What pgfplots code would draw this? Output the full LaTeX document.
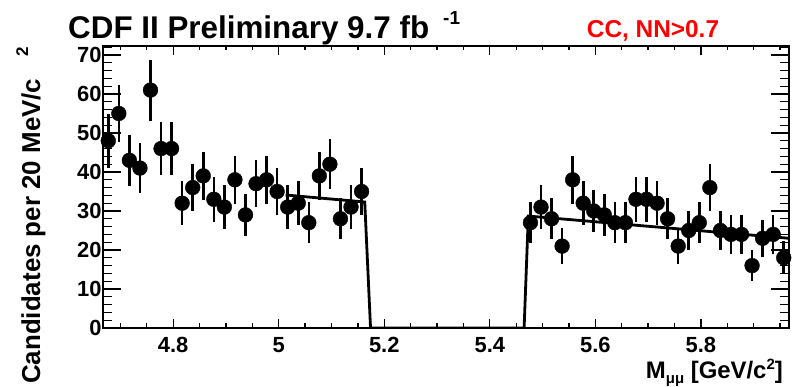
\documentclass[border=0pt]{standalone}
\usepackage{fontspec}
\setmainfont{Liberation Sans}
\usepackage{pgfplots}
\usepackage{pgfplotstable}
\pgfplotsset{compat=1.18}

% Dimuon candidates, 20 MeV bins, lower sideband
\pgfplotstableread{
x      y   e
4.677  48  6.93
4.697  55  7.42
4.717  43  6.56
4.737  41  6.40
4.757  61  7.81
4.777  46  6.78
4.797  46  6.78
4.817  32  5.66
4.837  36  6.00
4.857  39  6.24
4.877  33  5.74
4.897  31  5.57
4.917  38  6.16
4.937  29  5.39
4.957  37  6.08
4.977  38  6.16
4.997  35  5.92
5.017  31  5.57
5.037  32  5.66
5.057  27  5.20
5.077  39  6.24
5.097  42  6.48
5.117  28  5.29
5.137  31  5.57
5.157  35  5.92
}\lowside

% Upper sideband
\pgfplotstableread{
x      y   e
5.477  27  5.20
5.497  31  5.57
5.517  28  5.29
5.537  21  4.58
5.557  38  6.16
5.577  32  5.66
5.597  30  5.48
5.617  29  5.39
5.637  27  5.20
5.657  27  5.20
5.677  33  5.74
5.697  33  5.74
5.717  32  5.66
5.737  28  5.29
5.757  21  4.58
5.777  25  5.00
5.797  27  5.20
5.817  36  6.00
5.837  25  5.00
5.857  24  4.90
5.877  24  4.90
5.897  16  4.00
5.917  23  4.80
5.937  24  4.90
5.957  18  4.24
}\highside

\begin{document}
\begin{tikzpicture}
\begin{axis}[
  at={(103bp,59bp)}, anchor=south west,
  scale only axis, width=686bp, height=282bp,
  xmin=4.667, xmax=5.967, ymin=0, ymax=72.3,
  axis line style={line width=1.6bp},
  tick style={line width=1.3bp, black},
  xtick={4.8,5,5.2,5.4,5.6,5.8},
  xticklabels={4.8,5,5.2,5.4,5.6,5.8},
  minor xtick={4.7,4.75,4.85,4.9,4.95,5.05,5.1,5.15,5.25,5.3,5.35,5.45,5.5,5.55,5.65,5.7,5.75,5.85,5.9,5.95},
  ytick={0,10,...,70},
  minor ytick={2,4,6,8,12,14,16,18,22,24,26,28,32,34,36,38,42,44,46,48,52,54,56,58,62,64,66,68,72},
  xtick style={/pgfplots/major tick length=9bp, /pgfplots/minor tick length=4.5bp},
  ytick style={/pgfplots/major tick length=18bp, /pgfplots/minor tick length=9bp},
  /pgf/number format/assume math mode=true,
  ticklabel style={font=\bfseries\fontsize{22}{22}\selectfont},
  xticklabel style={yshift=-6bp},
  yticklabel style={xshift=2bp},
  clip=true,
]
  % fitted background shape
  \addplot[black, line width=2.8bp, sharp plot] coordinates {
    (5.013,34.1) (5.163,32.3) (5.174,0) (5.465,0) (5.473,28.7) (5.967,23.0)
  };
  \addplot[only marks, mark=*, mark size=7.4bp, black,
    error bars/.cd, y dir=both, y explicit, error mark=none,
    error bar style={line width=2.6bp, black}]
    table[x=x, y=y, y error=e] {\lowside};
  \addplot[only marks, mark=*, mark size=7.4bp, black,
    error bars/.cd, y dir=both, y explicit, error mark=none,
    error bar style={line width=2.6bp, black}]
    table[x=x, y=y, y error=e] {\highside};
\end{axis}

% titles and axis labels
\node[anchor=base west, inner sep=0pt, font=\bfseries\fontsize{31.5}{31.5}\selectfont]
  at (68bp,348bp) {CDF II Preliminary 9.7 fb};
\node[anchor=base west, inner sep=0pt, font=\bfseries\fontsize{19}{19}\selectfont]
  at (443bp,362bp) {-1};
\node[anchor=base, inner sep=0pt, text=red, font=\bfseries\fontsize{24.5}{24.5}\selectfont]
  at (653bp,349bp) {CC, NN>0.7};
\node[anchor=base east, inner sep=0pt, font=\bfseries\fontsize{24}{24}\selectfont]
  at (783bp,9bp) {M\raisebox{-5bp}{\fontsize{15}{15}\selectfont μμ} [GeV/c\raisebox{9bp}{\fontsize{15}{15}\selectfont 2}]};
\node[anchor=base west, rotate=90, inner sep=0pt, font=\bfseries\fontsize{26}{26}\selectfont]
  at (40bp,3bp) {Candidates per 20 MeV/c\hspace{22bp}\raisebox{12bp}{\fontsize{17}{17}\selectfont 2}};

\pgfresetboundingbox
\path[use as bounding box] (0bp,0bp) rectangle (794bp,387bp);
\end{tikzpicture}
\end{document}
